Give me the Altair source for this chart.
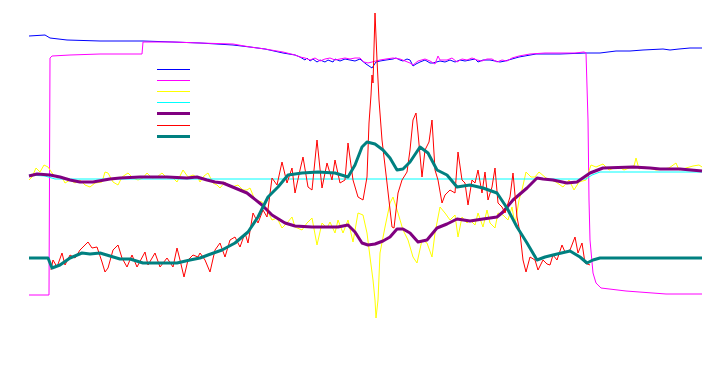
import altair as alt
import pandas as pd

names = ["blue", "magenta", "yellow", "cyan", "purple", "red", "teal"]
colors = ["#0000ff", "#ff00ff", "#ffff00", "#00ffff", "#800080", "#ff0000", "#008080"]
line_widths = [1, 1, 1, 1, 3, 1, 3]

blue_t = [0, 16, 21, 38, 71, 114, 144, 171, 204, 221, 236, 254, 266, 271, 276, 278, 281, 284, 288, 291,
          296, 299, 304, 306, 311, 316, 321, 326, 331, 337, 343, 347, 351, 357, 364, 367, 371, 374, 378, 381,
          384, 387, 391, 396, 401, 404, 411, 416, 421, 426, 431, 436, 441, 446, 449, 454, 461, 466, 471, 476,
          483, 490, 507, 531, 557, 571, 587, 601, 614, 634, 641, 650, 661, 673]
blue_v = [144, 145, 142, 140, 139, 139, 138, 137, 135, 133, 131, 127, 125, 123, 120, 122, 119, 121, 118, 120,
          118, 120, 118, 121, 119, 121, 120, 119, 121, 116, 112, 118, 119, 120, 121, 122, 120, 119, 121, 120,
          114, 116, 118, 120, 117, 117, 119, 118, 120, 118, 120, 119, 120, 121, 118, 120, 120, 119, 118, 119,
          121, 123, 126, 126, 127, 127, 129, 129, 130, 131, 130, 131, 132, 132]

magenta_t = [0, 20, 21, 23, 41, 71, 113, 114, 144, 171, 204, 221, 236, 254, 266, 271, 276, 281, 286, 291,
             296, 301, 306, 311, 316, 321, 326, 331, 335, 339, 343, 347, 351, 357, 364, 371, 376, 381, 384, 389,
             396, 401, 406, 409, 411, 418, 423, 428, 433, 438, 443, 448, 453, 458, 463, 468, 473, 478, 483, 490,
             501, 516, 531, 546, 555, 557, 559, 560, 561, 564, 567, 572, 597, 637, 673]
magenta_v = [-115, -115, 122, 124, 125, 126, 126, 138, 138, 137, 136, 133, 131, 128, 125, 123, 122, 120, 122, 119,
             121, 122, 120, 121, 122, 121, 122, 122, 118, 117, 118, 119, 120, 121, 122, 121, 119, 117, 115, 119,
             121, 119, 116, 124, 120, 120, 122, 118, 121, 120, 122, 120, 119, 121, 121, 118, 120, 119, 122, 124,
             126, 127, 127, 127, 128, 127, 60, -20, -60, -93, -103, -108, -111, -114, -114]

yellow_t = [0, 3, 7, 11, 15, 19, 23, 28, 33, 36, 41, 46, 51, 56, 61, 66, 73, 76, 79, 84,
            89, 93, 99, 104, 109, 114, 118, 123, 128, 133, 138, 143, 148, 154, 159, 164, 169, 171, 175, 179,
            184, 188, 191, 196, 200, 203, 209, 214, 218, 221, 226, 233, 238, 243, 248, 253, 258, 263, 266, 273,
            278, 283, 288, 293, 298, 301, 306, 309, 314, 319, 324, 329, 334, 338, 341, 344, 346, 347, 349, 351,
            356, 361, 364, 369, 374, 379, 384, 388, 393, 398, 403, 406, 411, 416, 421, 426, 429, 433, 438, 441,
            446, 449, 454, 458, 461, 466, 469, 474, 479, 483, 486, 490, 493, 497, 502, 506, 510, 517, 522, 527,
            534, 540, 545, 550, 557, 562, 567, 574, 580, 585, 590, 595, 600, 605, 607, 610, 615, 620, 627, 634,
            640, 647, 650, 657, 664, 670, 673]
yellow_v = [0, 3, 12, 8, 15, 13, 7, 2, 3, -3, 0, -3, 0, -5, -7, -3, -2, 8, 7, -2,
            -5, 3, 7, 2, 0, 2, 7, 2, 3, 7, 2, 3, -2, 10, 3, 5, 2, -2, 4, 7,
            -3, -5, -8, -2, -6, -7, -5, -10, -10, -8, -20, -22, -30, -40, -38, -48, -43, -37, -47, -50,
            -43, -38, -65, -43, -48, -42, -53, -40, -53, -40, -62, -33, -35, -53, -77, -100, -120, -138, -120, -73,
            -47, -23, -17, -33, -50, -60, -77, -83, -60, -63, -77, -53, -27, -33, -40, -35, -57, -37, -43, -40,
            -45, -33, -47, -30, -43, -48, -33, -35, -40, -27, -45, -20, -10, 8, 3, 3, 8, 2, 0, -2,
            -7, 0, -10, -2, 0, 15, 13, 16, 10, 12, 13, 10, 12, 14, 22, 11, 13, 12, 10, 11,
            12, 17, 10, 12, 14, 15, 13]

cyan_t = [0, 16, 26, 557, 563, 571, 673]
cyan_v = [5, 4, 1, 1, 5, 8, 8]

purple_t = [0, 8, 21, 31, 41, 51, 64, 81, 91, 111, 138, 158, 168, 178, 186, 194, 206, 218, 223, 233,
            243, 256, 266, 283, 299, 309, 319, 326, 333, 339, 346, 354, 361, 368, 374, 381, 389, 398, 408, 418,
            428, 441, 454, 468, 474, 484, 498, 508, 514, 524, 538, 548, 561, 574, 604, 621, 631, 651, 673]
purple_v = [4, 6, 5, 3, 0, -2, -2, 1, 2, 3, 3, 2, 3, 0, -2, -3, -8, -13, -17, -25,
            -35, -43, -46, -47, -47, -47, -45, -52, -63, -65, -64, -61, -57, -49, -49, -53, -62, -60, -48, -44,
            -39, -41, -39, -37, -32, -20, -8, 2, 1, 0, -3, -2, 7, 12, 13, 12, 11, 11, 9]

red_t = [22, 24, 28, 33, 36, 41, 46, 51, 56, 59, 63, 68, 73, 76, 79, 84, 89, 93, 98, 103,
         108, 116, 119, 126, 131, 138, 144, 148, 151, 155, 159, 164, 169, 171, 176, 181, 186, 191, 196, 201,
         206, 211, 216, 219, 224, 229, 234, 238, 243, 248, 253, 258, 263, 266, 271, 274, 279, 283, 288, 293,
         298, 303, 306, 311, 316, 319, 324, 329, 334, 338, 340, 342, 343, 344, 346, 348, 350, 353, 358, 363,
         365, 369, 373, 378, 381, 384, 387, 389, 393, 396, 400, 403, 406, 409, 413, 416, 421, 426, 429, 433,
         436, 439, 443, 446, 449, 453, 456, 459, 463, 466, 469, 473, 476, 481, 484, 488, 491, 494, 497, 501,
         506, 509, 514, 518, 521, 524, 528, 533, 536, 541, 546, 549, 553, 556, 561]
red_v = [-90, -80, -87, -73, -85, -75, -78, -70, -65, -62, -68, -67, -82, -92, -88, -70, -65, -78, -87, -75,
         -87, -72, -85, -73, -87, -78, -87, -68, -80, -97, -80, -75, -77, -73, -80, -92, -70, -63, -77, -60,
         -57, -67, -53, -63, -33, -43, -30, -37, 2, -5, 18, -3, 12, -13, 10, 23, -7, -10, 40, -8,
         17, 0, 20, -3, 0, 37, 0, -17, -20, 3, 57, 85, 105, 97, 167, 120, 80, 40, -3, -47,
         -48, -13, 0, 8, 30, 60, 67, 47, 3, 30, 38, 60, 10, 0, -23, -15, -10, -13, 28, 0,
         -3, -25, 0, -3, 10, -13, 8, -20, -7, 12, -23, -27, -33, -17, 7, -37, -53, -80, -92, -77,
         -80, -90, -80, -84, -85, -75, -80, -65, -72, -70, -57, -73, -63, -83, -85]

teal_t = [0, 19, 23, 31, 41, 53, 61, 71, 81, 91, 101, 114, 131, 148, 161, 171, 179, 193, 206, 219,
          229, 239, 249, 259, 273, 289, 306, 319, 326, 333, 338, 346, 354, 361, 368, 374, 381, 391, 399, 408,
          418, 428, 441, 454, 468, 478, 488, 498, 508, 516, 524, 541, 551, 558, 564, 571, 673]
teal_v = [-78, -78, -88, -85, -78, -73, -74, -73, -76, -79, -79, -83, -83, -83, -80, -78, -75, -70, -63, -52,
          -37, -17, -7, 5, 7, 8, 7, 3, 15, 33, 38, 36, 30, 22, 10, 11, 18, 33, 27, 10,
          5, -7, -5, -8, -13, -28, -47, -63, -80, -77, -75, -71, -77, -83, -80, -78, -78]

series = [
    (blue_t, blue_v), (magenta_t, magenta_v), (yellow_t, yellow_v), (cyan_t, cyan_v),
    (purple_t, purple_v), (red_t, red_v), (teal_t, teal_v),
]

rows = []
for name, (ts, vs) in zip(names, series):
    for t, v in zip(ts, vs):
        rows.append({"series": name, "t": t, "v": v})
df = pd.DataFrame(rows)

legend = alt.Legend(
    title=None,
    orient="none",
    legendX=160,
    legendY=56,
    padding=0,
    rowPadding=-1,
    symbolType="M-4.125,0L4.125,0",
    symbolSize=64,
    symbolOffset=0,
    labelFontSize=11,
    labelOpacity=0,
)

chart = alt.Chart(df).mark_line(strokeJoin="round").encode(
    x=alt.X("t:Q", axis=None, scale=alt.Scale(domain=[-21, 689], nice=False, zero=False)),
    y=alt.Y("v:Q", axis=None, scale=alt.Scale(domain=[-182, 172], nice=False, zero=False)),
    color=alt.Color("series:N", scale=alt.Scale(domain=names, range=colors), sort=names, legend=legend),
    strokeWidth=alt.StrokeWidth("series:N",
                                scale=alt.Scale(type="ordinal", domain=names, range=line_widths),
                                sort=names, legend=legend),
).properties(
    width=710,
    height=354,
    padding=0,
    autosize=alt.AutoSizeParams(type="fit", contains="padding"),
).configure_view(stroke=None)

chart.save("out.html", embed_options={"renderer": "svg", "actions": False})
